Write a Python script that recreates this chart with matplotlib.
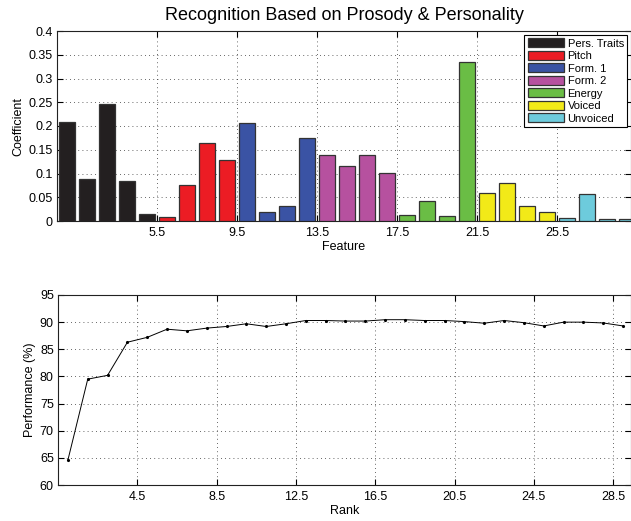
import matplotlib
matplotlib.use('Agg')
import matplotlib.pyplot as plt
from matplotlib.patches import Patch

plt.rcParams['font.family'] = ['Liberation Sans', 'DejaVu Sans']

# feature coefficients (29 features, grouped)
groups = ['Pers. Traits', 'Pitch', 'Form. 1', 'Form. 2', 'Energy', 'Voiced', 'Unvoiced']
group_sizes = [5, 4, 4, 4, 4, 4, 4]
group_colors = ['#231f20', '#ec1c24', '#3a53a4', '#b6519f', '#6abd45', '#f2ea18', '#6dcbdc']
coef = [0.209, 0.089, 0.246, 0.084, 0.014,
        0.008, 0.076, 0.165, 0.128,
        0.206, 0.020, 0.032, 0.174,
        0.138, 0.115, 0.140, 0.102,
        0.013, 0.042, 0.011, 0.335,
        0.058, 0.079, 0.032, 0.019,
        0.007, 0.057, 0.004, 0.005]

# performance vs rank
rank = list(range(1, 30))
perf = [64.6, 79.5, 80.2, 86.3, 87.2, 88.7, 88.4, 88.9, 89.2, 89.7,
        89.2, 89.7, 90.3, 90.3, 90.2, 90.2, 90.45, 90.45, 90.3, 90.3,
        90.1, 89.8, 90.3, 89.9, 89.3, 90.0, 90.0, 89.85, 89.3]

feat_ticks = [5.5, 9.5, 13.5, 17.5, 21.5, 25.5]
rank_ticks = [4.5, 8.5, 12.5, 16.5, 20.5, 24.5, 28.5]

fig = plt.figure(figsize=(6.31, 5.21), dpi=100)

#### top: bar chart of coefficients
ax1 = fig.add_axes([57/631, 1-221/521, 574/631, 190/521])
x = list(range(1, len(coef) + 1))
colors = []
for c, n in zip(group_colors, group_sizes):
    colors += [c]*n
ax1.bar(x, coef, width=0.8, color=colors, edgecolor='#333333', linewidth=0.9, zorder=3)
ax1.set_xlim(0.5, 29.2)
ax1.set_ylim(0, 0.4)
ax1.set_xticks(feat_ticks)
ax1.set_xticklabels([str(t) for t in feat_ticks])
ax1.set_yticks([0, 0.05, 0.1, 0.15, 0.2, 0.25, 0.3, 0.35, 0.4])
ax1.set_yticklabels(['0', '0.05', '0.1', '0.15', '0.2', '0.25', '0.3', '0.35', '0.4'])
ax1.set_xlabel('Feature', fontsize=9, labelpad=2)
ax1.set_ylabel('Coefficient', fontsize=9, labelpad=3)
ax1.set_title('Recognition Based on Prosody & Personality', fontsize=13, pad=8)
handles = [Patch(facecolor=c, edgecolor='#333333', linewidth=0.9) for c in group_colors]
leg = ax1.legend(handles, groups, loc='upper right', fontsize=8, fancybox=False,
                 framealpha=1, edgecolor='black', handlelength=3.3, handleheight=0.85,
                 labelspacing=0.2, handletextpad=0.3, borderpad=0.3,
                 borderaxespad=0.35)
leg.get_frame().set_linewidth(0.8)
leg.set_zorder(5)

#### bottom: performance vs rank
ax2 = fig.add_axes([58/631, 1-485/521, 573/631, 190/521])
ax2.plot(rank, perf, color='black', linewidth=0.7, marker='.', markersize=2.5, zorder=3)
ax2.set_xlim(0.5, 29.4)
ax2.set_ylim(60, 95)
ax2.set_xticks(rank_ticks)
ax2.set_xticklabels([str(t) for t in rank_ticks])
ax2.set_yticks(range(60, 96, 5))
ax2.set_xlabel('Rank', fontsize=9, labelpad=2)
ax2.set_ylabel('Performance (%)', fontsize=9, labelpad=3)

for ax in (ax1, ax2):
    ax.grid(True, linestyle=(0, (1, 4)), color='#333333', linewidth=0.6, zorder=0)
    ax.tick_params(direction='in', top=True, right=True, labelsize=9, length=4, width=0.8)
    ax.tick_params(axis='x', pad=4)
    ax.tick_params(axis='y', pad=3)
    for s in ax.spines.values():
        s.set_linewidth(0.8)
        s.set_color('#222222')

fig.savefig('out.png', dpi=100)
